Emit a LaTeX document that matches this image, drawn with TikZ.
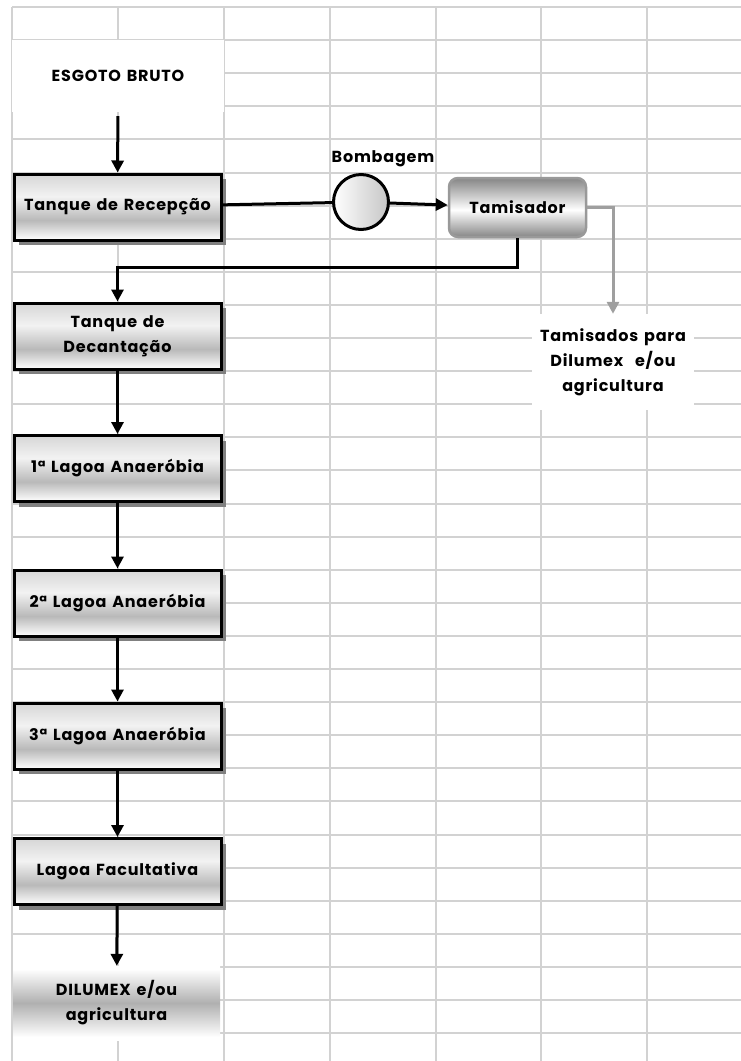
\documentclass[tikz,border=0pt]{standalone}
\usepackage{fontspec}
\setmainfont{Poppins}[LetterSpace=5,WordSpace=1.4]
\usetikzlibrary{arrows.meta}
\usetikzlibrary{shadows}

% gradients
\pgfdeclareverticalshading{gradcaixa}{100bp}{color(0bp)=(white); color(25bp)=(white); color(40bp)=(gray!55); color(58bp)=(gray!10); color(75bp)=(gray!32); color(100bp)=(gray!32)}
\pgfdeclareverticalshading{gradtamis}{100bp}{color(0bp)=(gray!95); color(25bp)=(gray!95); color(48bp)=(white); color(75bp)=(gray!95); color(100bp)=(gray!95)}
\pgfdeclareverticalshading{gradsaida}{100bp}{color(0bp)=(white); color(27bp)=(white); color(50bp)=(gray!62); color(73bp)=(white); color(100bp)=(white)}

\begin{document}
\begin{tikzpicture}[x=1pt,y=-1pt,>={Triangle[length=12pt,width=12pt]},
    grade/.style={draw=gray!35, line width=2pt},
    texto/.style={font=\bfseries\fontsize{16}{25}\selectfont, align=center, text=black},
    caixa/.style={texto, draw=black, line width=3pt, shading=gradcaixa, minimum width=207pt, minimum height=66pt,
        drop shadow={shadow xshift=5pt, shadow yshift=-5pt, fill=gray, opacity=1}},
    seta/.style={->, line width=3pt}]

    \useasboundingbox (0,0) rectangle (741,1061);

    %%% GRID
    \foreach \x in {12,118,224,330,436,541,647} {
        \draw[grade] (\x,7) -- (\x,1061);
        };
    \foreach \k in {0,...,31} {
        \draw[grade] (12,{7+33.1*\k}) -- (741,{7+33.1*\k});
        };

    %%% MAIN LINE
    \node[texto, fill=white, minimum width=212pt, minimum height=72pt] (esgoto) at (118,76) {ESGOTO BRUTO};
    \node[caixa] (recepcao) at (117.5,207) {Tanque de Recepção};
    \node[caixa] (decantacao) at (117.5,336) {Tanque de\\Decantação};
    \node[caixa] (lagoa1) at (117.5,468.5) {1ª Lagoa Anaeróbia};
    \node[caixa] (lagoa2) at (117.5,603) {2ª Lagoa Anaeróbia};
    \node[caixa] (lagoa3) at (117.5,736) {3ª Lagoa Anaeróbia};
    \node[caixa] (facultativa) at (117.5,871.5) {Lagoa Facultativa};
    \node[texto, shading=gradsaida, minimum width=207pt, minimum height=74pt] (dilumex) at (116.5,1003) {DILUMEX e/ou\\agricultura};

    %%% PUMP AND SIEVE
    \node[circle, draw=black, line width=3pt, minimum size=55pt, left color=white, right color=gray!45] (bomba) at (361,202) {};
    \node[texto] (bombagem) at (383,159) {Bombagem};
    \node[texto, rounded corners=9pt, draw=gray!80, line width=2.5pt, shading=gradtamis,
        minimum width=137pt, minimum height=59pt] (tamisador) at (517.5,207.5) {Tamisador};
    \node[texto, fill=white, minimum width=162pt, minimum height=96pt] (tamisados) at (613,362) {Tamisados para\\Dilumex\ \ e/ou\\agricultura};

    % Connectors
    \draw[seta, shorten <=4pt] (esgoto) -- (recepcao);
    \draw[line width=3pt] (recepcao) -- (bomba);
    \draw[seta] (bomba) -- (tamisador);
    \draw[seta] (tamisador.south) -- ++(0,29) -| (decantacao.north);
    \draw[seta, draw=gray!75] (tamisador.east) -| (tamisados.north);
    \foreach \a/\b in {decantacao/lagoa1, lagoa1/lagoa2, lagoa2/lagoa3, lagoa3/facultativa, facultativa/dilumex} {
        \draw[seta] (\a) -- (\b);
        };
\end{tikzpicture}
\end{document}
